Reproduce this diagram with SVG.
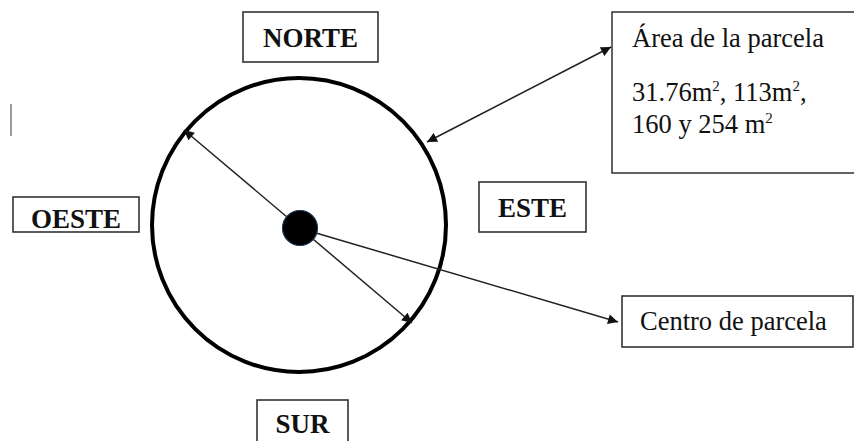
<svg xmlns="http://www.w3.org/2000/svg" width="854" height="441" viewBox="0 0 854 441">
  <style>
    .box { fill: #ffffff; stroke: #333333; stroke-width: 1.6; }
    .lbl { font-family: "Liberation Serif", "Times New Roman", serif; font-size: 27px; font-weight: bold; fill: #111111; text-anchor: middle; }
    .txt { font-family: "Liberation Serif", "Times New Roman", serif; font-size: 26.5px; fill: #111111; }
    .arrow { stroke: #222222; stroke-width: 1.5; fill: none; }
  </style>
  <defs>
    <marker id="head" viewBox="0 0 10 10" refX="10" refY="5" markerWidth="11" markerHeight="10" markerUnits="userSpaceOnUse" orient="auto-start-reverse">
      <path d="M0,0 L10,5 L0,10 Z" fill="#111111"/>
    </marker>
  </defs>
  <rect width="854" height="441" fill="#ffffff"/>

  <!-- stray vertical mark at the left margin -->
  <line x1="11" y1="104" x2="11" y2="136" stroke="#9a9a9a" stroke-width="2"/>

  <!-- plot boundary -->
  <g id="plot">
    <circle cx="299" cy="225" r="147" fill="none" stroke="#000000" stroke-width="4"/>
  </g>

  <g id="connectors">
    <line class="arrow" x1="300" y1="228" x2="184" y2="130" marker-end="url(#head)"/>
    <line class="arrow" x1="300" y1="228" x2="412" y2="323" marker-end="url(#head)"/>
    <line class="arrow" x1="316" y1="233" x2="618" y2="322" marker-end="url(#head)"/>
    <line class="arrow" x1="427" y1="142" x2="611" y2="47" marker-start="url(#head)" marker-end="url(#head)"/>
  </g>

  <g id="center-dot">
    <circle cx="300" cy="228" r="17.5" fill="#000000" stroke="#1d3557" stroke-width="1.2"/>
  </g>

  <g id="norte">
    <rect class="box" x="243" y="12" width="135" height="50"/>
    <text class="lbl" x="310.5" y="47">NORTE</text>
  </g>

  <g id="oeste">
    <rect class="box" x="13" y="197" width="126" height="35"/>
    <text class="lbl" x="76" y="228">OESTE</text>
  </g>

  <g id="este">
    <rect class="box" x="479" y="182" width="107" height="50"/>
    <text class="lbl" x="532.5" y="217">ESTE</text>
  </g>

  <g id="sur">
    <rect class="box" x="257" y="400" width="91" height="45"/>
    <text class="lbl" x="302.5" y="433">SUR</text>
  </g>

  <g id="area">
    <rect x="612" y="12" width="250" height="161" fill="#ffffff" stroke="#222222" stroke-width="1.4"/>
    <text class="txt" x="632" y="47">Área de la parcela</text>
    <text class="txt" x="632" y="101">31.76m<tspan font-size="15" dy="-10">2</tspan><tspan dy="10">, 113m</tspan><tspan font-size="15" dy="-10">2</tspan><tspan dy="10">,</tspan></text>
    <text class="txt" x="632" y="133">160 y 254 m<tspan font-size="15" dy="-10">2</tspan></text>
  </g>

  <g id="centro">
    <rect class="box" x="622" y="296" width="231" height="51"/>
    <text class="txt" x="640" y="330" font-size="28">Centro de parcela</text>
  </g>
</svg>
